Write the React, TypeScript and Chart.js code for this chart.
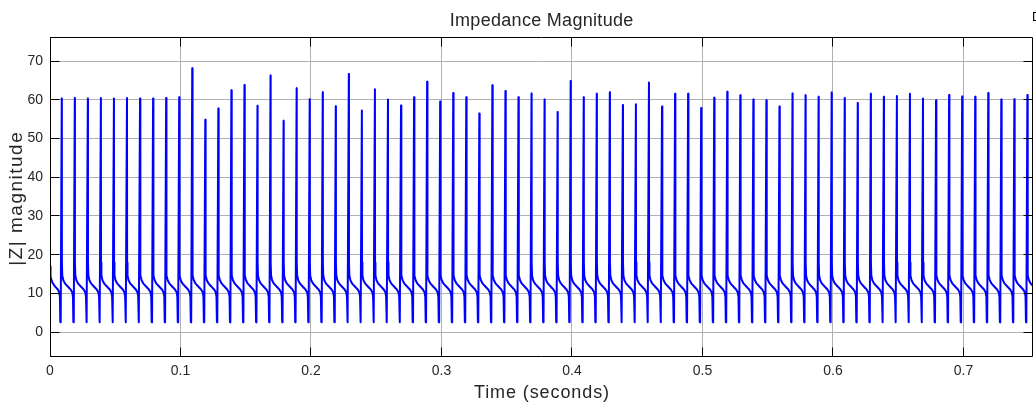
import React, { useEffect, useRef } from 'react';
import { Chart, registerables } from 'chart.js';

Chart.register(...registerables);

// ---- axis ranges & ticks ----
const xMin = 0;
const xMax = 0.7533;
const yMin = -6.46;
const yMax = 76.28;
const xTickValues = [0, 0.1, 0.2, 0.3, 0.4, 0.5, 0.6, 0.7];
const xTickLabels = ['0', '0.1', '0.2', '0.3', '0.4', '0.5', '0.6', '0.7'];
const yTickValues = [0, 10, 20, 30, 40, 50, 60, 70];
const yTickLabels = ['0', '10', '20', '30', '40', '50', '60', '70'];

const chartTitle = 'Impedance Magnitude';
const xLabel = 'Time (seconds)';
const yLabel = '|Z| magnitude';
const cornerText = 'D';

// ---- series: spike instants (s) and spike peak magnitudes ----
const spikeTimes = [
  0.009, 0.019, 0.029, 0.039, 0.049, 0.059, 0.069, 0.079, 0.089, 0.099,
  0.109, 0.119, 0.129, 0.139, 0.149, 0.159, 0.169, 0.179, 0.189, 0.199,
  0.209, 0.219, 0.229, 0.239, 0.249, 0.259, 0.269, 0.279, 0.289, 0.299,
  0.309, 0.319, 0.329, 0.339, 0.349, 0.359, 0.369, 0.379, 0.389, 0.399,
  0.409, 0.419, 0.429, 0.439, 0.449, 0.459, 0.469, 0.479, 0.489, 0.499,
  0.509, 0.519, 0.529, 0.539, 0.549, 0.559, 0.569, 0.579, 0.589, 0.599,
  0.609, 0.619, 0.629, 0.639, 0.649, 0.659, 0.669, 0.679, 0.689, 0.699,
  0.709, 0.719, 0.729, 0.739, 0.749,
];
const spikePeaks = [
  60.4, 60.5, 60.4, 60.5, 60.4, 60.5, 60.4, 60.4, 60.5, 60.7,
  68.2, 54.9, 57.8, 62.5, 63.9, 58.5, 66.3, 54.6, 63.0, 60.2,
  62.0, 58.4, 66.7, 57.3, 62.8, 60.1, 58.6, 60.7, 64.7, 59.6,
  61.8, 60.7, 56.5, 63.8, 62.3, 60.7, 61.7, 60.1, 56.9, 64.9,
  60.7, 61.6, 62.0, 58.7, 58.9, 64.5, 58.3, 61.6, 61.6, 57.9,
  60.6, 62.1, 61.2, 60.1, 59.9, 58.3, 61.7, 61.2, 60.8, 61.9,
  60.5, 59.2, 61.6, 60.8, 61.0, 61.6, 60.4, 59.9, 61.3, 60.9,
  60.8, 61.8, 60.1, 60.2, 61.3,
];

// ---- waveform after each spike (offset in s from the spike, |Z|) ----
const cycleOffsets = [0.0001, 0.0004, 0.0012, 0.0026, 0.0048, 0.0068, 0.0081, 0.0086, 0.0089, 0.0092];
const cycleValues = [18.0, 14.6, 13.4, 12.5, 11.7, 11.0, 10.2, 9.0, 2.6, 2.5];

// ---- waveform before the first spike ----
const startTimes = [0, 0.0004, 0.0018, 0.0038, 0.0060, 0.0071, 0.0076, 0.0079, 0.0082];
const startValues = [17.0, 14.3, 12.8, 11.8, 11.0, 10.2, 9.0, 2.6, 2.5];

function buildPoints() {
  const pts: { x: number; y: number }[] = [];
  startTimes.forEach((t, i) => pts.push({ x: t, y: startValues[i] }));
  spikeTimes.forEach((t, k) => {
    pts.push({ x: t, y: spikePeaks[k] });
    cycleOffsets.forEach((o, j) => pts.push({ x: t + o, y: cycleValues[j] }));
  });
  return pts;
}

const FONT = '"Liberation Sans", Arial, Helvetica, sans-serif';
const TEXT_COLOR = '#262626';

const alignPx = (p: number) => Math.round(p - 0.5) + 0.5;

function spacedText(ctx: any, text: string, x: number, y: number, spacing: number) {
  ctx.letterSpacing = spacing + 'px';
  const w = ctx.measureText(text).width - spacing;
  ctx.textAlign = 'left';
  ctx.fillText(text, x - w / 2, y);
  ctx.letterSpacing = '0px';
}

const labelsPlugin = {
  id: 'axisLabels',
  afterDraw(chart: any) {
    const { ctx, chartArea } = chart;
    const cx = (chartArea.left + chartArea.right) / 2;
    ctx.save();
    ctx.fillStyle = TEXT_COLOR;
    ctx.textBaseline = 'middle';
    ctx.font = '18px ' + FONT;
    spacedText(ctx, chartTitle, cx, 21, 0.3);
    ctx.font = '18px ' + FONT;
    spacedText(ctx, xLabel, cx, 393, 0.9);
    ctx.translate(17, 199);
    ctx.rotate(-Math.PI / 2);
    ctx.font = '19px ' + FONT;
    spacedText(ctx, yLabel, 0, 0, 1.5);
    ctx.restore();
  },
};

const axesBoxPlugin = {
  id: 'axesBox',
  afterDraw(chart: any) {
    const { ctx, chartArea } = chart;
    const { left, right, top, bottom } = chartArea;
    const xs = chart.scales.x;
    const ys = chart.scales.y;
    const tl = 9;
    ctx.save();
    ctx.strokeStyle = '#000';
    ctx.lineWidth = 1;
    ctx.beginPath();
    const L = left + 0.5, R = right - 0.5, T = top + 0.5, B = bottom - 0.5;
    ctx.rect(L, T, R - L, B - T);
    xTickValues.forEach((v) => {
      const px = alignPx(xs.getPixelForValue(v));
      ctx.moveTo(px, B);
      ctx.lineTo(px, B - tl);
      ctx.moveTo(px, T);
      ctx.lineTo(px, T + tl);
    });
    yTickValues.forEach((v) => {
      const py = alignPx(ys.getPixelForValue(v));
      ctx.moveTo(L, py);
      ctx.lineTo(L + tl, py);
      ctx.moveTo(R, py);
      ctx.lineTo(R - tl, py);
    });
    ctx.stroke();
    ctx.fillStyle = '#000';
    ctx.font = '12.5px ' + FONT;
    ctx.textBaseline = 'alphabetic';
    ctx.textAlign = 'left';
    ctx.fillText(cornerText, 1032, 21);
    ctx.restore();
  },
};

export default function App() {
  const canvasRef = useRef<HTMLCanvasElement | null>(null);

  useEffect(() => {
    const canvas = canvasRef.current;
    if (!canvas) return;
    const chart = new Chart(canvas, {
      type: 'line',
      data: {
        datasets: [
          {
            data: buildPoints(),
            borderColor: 'rgb(0,0,255)',
            borderWidth: 2,
            pointRadius: 0,
            tension: 0,
            borderJoinStyle: 'round',
            borderCapStyle: 'round',
            fill: false,
          },
        ],
      },
      options: {
        animation: false,
        responsive: false,
        devicePixelRatio: 1,
        parsing: false,
        normalized: true,
        layout: { padding: { left: 0, right: 3, top: 37, bottom: 0 } },
        plugins: {
          legend: { display: false },
          tooltip: { enabled: false },
          title: { display: false },
        },
        scales: {
          x: {
            type: 'linear',
            position: 'bottom',
            min: xMin,
            max: xMax,
            afterBuildTicks: (scale: any) => {
              scale.ticks = xTickValues.map((v) => ({ value: v }));
            },
            afterFit: (scale: any) => {
              scale.height = 47;
            },
            ticks: {
              callback: (_v: any, i: number) => xTickLabels[i],
              color: TEXT_COLOR,
              font: { family: FONT, size: 14 },
              padding: 6,
              maxRotation: 0,
              autoSkip: false,
            },
            grid: { color: '#b0b0b0', lineWidth: 1, drawTicks: false },
            border: { display: false },
          },
          y: {
            type: 'linear',
            position: 'left',
            min: yMin,
            max: yMax,
            afterBuildTicks: (scale: any) => {
              scale.ticks = yTickValues.map((v) => ({ value: v }));
            },
            afterFit: (scale: any) => {
              scale.width = 50;
            },
            ticks: {
              callback: (_v: any, i: number) => yTickLabels[i],
              color: TEXT_COLOR,
              font: { family: FONT, size: 14 },
              padding: 7,
              autoSkip: false,
            },
            grid: { color: '#b0b0b0', lineWidth: 1, drawTicks: false },
            border: { display: false },
          },
        },
      },
      plugins: [axesBoxPlugin, labelsPlugin],
    } as any);
    return () => chart.destroy();
  }, []);

  return (
    <div style={{ position: 'fixed', left: 0, top: 0, width: 1036, height: 404, background: '#fff' }}>
      <canvas ref={canvasRef} width={1036} height={404} style={{ width: 1036, height: 404, display: 'block' }} />
    </div>
  );
}
